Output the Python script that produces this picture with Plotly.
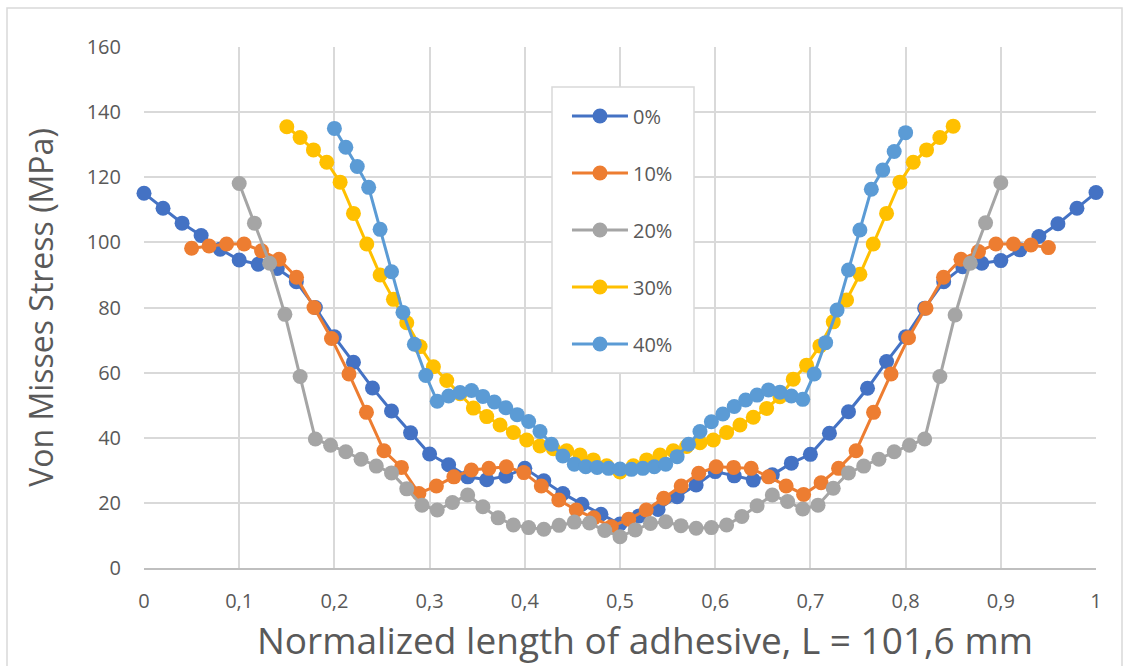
import numpy as np
import plotly.graph_objects as go

# ---- data ----
series_names = ["0%", "10%", "20%", "30%", "40%"]

x_0 = np.linspace(0.00, 1.00, 51)
x_10 = np.linspace(0.05, 0.95, 50)
x_20 = np.linspace(0.10, 0.90, 51)
x_30 = np.linspace(0.15, 0.85, 51)
x_40 = np.linspace(0.20, 0.80, 51)

y_0 = [115.1, 110.5, 105.9, 102.1, 97.9, 94.6, 93.3, 92.0, 87.9, 80.0,
       71.0, 63.2, 55.3, 48.2, 41.5, 35.0, 31.7, 28.0, 27.1, 28.2,
       30.6, 26.8, 22.9, 19.6, 16.5, 13.5,
       16.0, 18.0, 21.9, 25.5, 29.6, 28.3, 27.0, 28.6, 32.2, 34.9,
       41.4, 48.0, 55.2, 63.4, 71.0, 79.8, 87.9, 92.5, 93.6, 94.4,
       97.7, 101.8, 105.7, 110.5, 115.3]

y_10 = [98.2, 98.9, 99.5, 99.5, 97.4, 94.8, 89.3, 80.0, 70.5, 59.6,
        47.8, 36.0, 30.9, 22.9, 25.2, 28.0, 30.1, 30.6, 31.1, 29.3,
        25.2, 20.9, 17.8, 15.4, 12.7,
        15.0, 17.8, 21.4, 25.2, 29.1, 31.1, 30.9, 30.6, 28.0, 25.2,
        22.6, 26.2, 30.6, 36.0, 47.8, 59.6, 70.7, 79.8, 89.3, 94.8,
        97.2, 99.5, 99.5, 99.2, 98.4]

y_20 = [118.1, 105.9, 93.6, 77.9, 58.8, 39.6, 37.7, 35.7, 33.4, 31.3,
        29.2, 24.3, 19.3, 17.8, 20.1, 22.4, 18.8, 15.4, 13.2, 12.4,
        11.9, 13.1, 14.1, 13.8, 11.5, 9.6,
        11.7, 13.7, 14.2, 13.0, 12.2, 12.4, 13.2, 15.8, 19.1, 22.4,
        20.4, 18.1, 19.3, 24.5, 29.2, 31.3, 33.4, 35.7, 37.7, 39.6,
        58.8, 77.7, 93.6, 106.0, 118.3]

y_30 = [135.5, 132.2, 128.4, 124.6, 118.5, 108.9, 99.5, 90.0, 82.5, 75.3,
        68.0, 61.8, 57.6, 53.5, 49.1, 46.5, 43.9, 41.6, 39.3, 37.5,
        36.6, 36.0, 34.7, 33.2, 31.4, 29.5,
        31.4, 33.2, 34.7, 36.0, 37.3, 38.5, 39.3, 41.6, 43.9, 46.3,
        49.0, 52.6, 58.0, 62.3, 68.2, 75.6, 82.3, 90.2, 99.5, 108.9,
        118.5, 124.6, 128.4, 132.2, 135.7]

y_40 = [135.0, 129.2, 123.3, 116.9, 104.0, 91.0, 78.5, 68.7, 59.1, 51.2,
        52.8, 53.9, 54.5, 52.7, 51.0, 49.2, 47.1, 45.0, 41.9, 38.0,
        34.4, 31.9, 31.1, 30.9, 30.6, 30.4,
        30.3, 30.6, 31.1, 31.9, 34.2, 38.0, 41.9, 44.9, 47.3, 49.6,
        51.6, 53.1, 54.7, 54.0, 52.8, 51.8, 59.6, 69.2, 79.2, 91.5,
        103.8, 116.3, 122.2, 127.9, 133.7]

x_tick_vals = [0, 0.1, 0.2, 0.3, 0.4, 0.5, 0.6, 0.7, 0.8, 0.9, 1.0]
x_tick_text = ["0", "0,1", "0,2", "0,3", "0,4", "0,5", "0,6", "0,7", "0,8", "0,9", "1"]
y_tick_vals = [0, 20, 40, 60, 80, 100, 120, 140, 160]

x_title = "Normalized length of adhesive, L = 101,6 mm"
y_title = "Von Misses Stress (MPa)"

colors = ["#4472C4", "#ED7D31", "#A5A5A5", "#FFC000", "#5B9BD5"]

FONT = "Open Sans"
TXT = "#595959"
GRID = "#D9D9D9"

fig = go.Figure()
for name, xs, ys, c in zip(series_names,
                           [x_0, x_10, x_20, x_30, x_40],
                           [y_0, y_10, y_20, y_30, y_40],
                           colors):
    fig.add_trace(go.Scatter(
        x=xs, y=ys, name=name, mode="lines+markers",
        line=dict(color=c, width=3),
        marker=dict(color=c, size=15, line=dict(width=0)),
        cliponaxis=False, legendgroup=name,
    ))

fig.update_layout(
    width=1134, height=666,
    margin=dict(l=144, r=38, t=47, b=98),
    paper_bgcolor="white", plot_bgcolor="white",
    font=dict(family=FONT, color=TXT, size=20),
    showlegend=True,
    legend=dict(
        x=0.4443, y=0.905, xanchor="left", yanchor="top",
        bgcolor="rgba(0,0,0,0)", borderwidth=0,
        font=dict(size=20, color=TXT, family=FONT),
        tracegroupgap=28, itemwidth=56,
    ),
    xaxis=dict(
        range=[0, 1], tickmode="array", tickvals=x_tick_vals, ticktext=x_tick_text,
        showgrid=True, gridcolor=GRID, gridwidth=1.5,
        showline=True, linecolor="#BFBFBF", linewidth=1.5,
        zeroline=False, ticks="outside", ticklen=14, tickcolor="rgba(0,0,0,0)",
        tickfont=dict(size=20, color=TXT), automargin=False,
    ),
    yaxis=dict(
        range=[0, 160], tickmode="array", tickvals=y_tick_vals,
        showgrid=True, gridcolor=GRID, gridwidth=1.5,
        zeroline=False, showline=False,
        ticks="outside", ticklen=18, tickcolor="rgba(0,0,0,0)",
        tickfont=dict(size=20, color=TXT), automargin=False,
        title=dict(text=y_title, font=dict(size=32, color=TXT), standoff=23),
    ),
    annotations=[
        dict(text=x_title, xref="paper", yref="paper",
             x=(644.5 - 144) / 952, y=(568 - 639) / 521,
             xanchor="center", yanchor="middle", showarrow=False,
             font=dict(size=37, color=TXT, family=FONT)),
    ],
    shapes=[
        # legend box
        dict(type="rect", xref="paper", yref="paper",
             x0=(552 - 144) / 952, x1=(694 - 144) / 952,
             y0=(568 - 373) / 521, y1=(568 - 87) / 521,
             fillcolor="white", line=dict(color=GRID, width=1.5), layer="above"),
        # outer chart border
        dict(type="rect", xref="paper", yref="paper",
             x0=(7 - 144) / 952, x1=(1122 - 144) / 952,
             y0=(568 - 680) / 521, y1=(568 - 8) / 521,
             fillcolor="rgba(0,0,0,0)", line=dict(color=GRID, width=1.5), layer="below"),
    ],
)

fig.write_html("out.html", config={"displayModeBar": False},
               post_script="document.body.style.margin='0';")
